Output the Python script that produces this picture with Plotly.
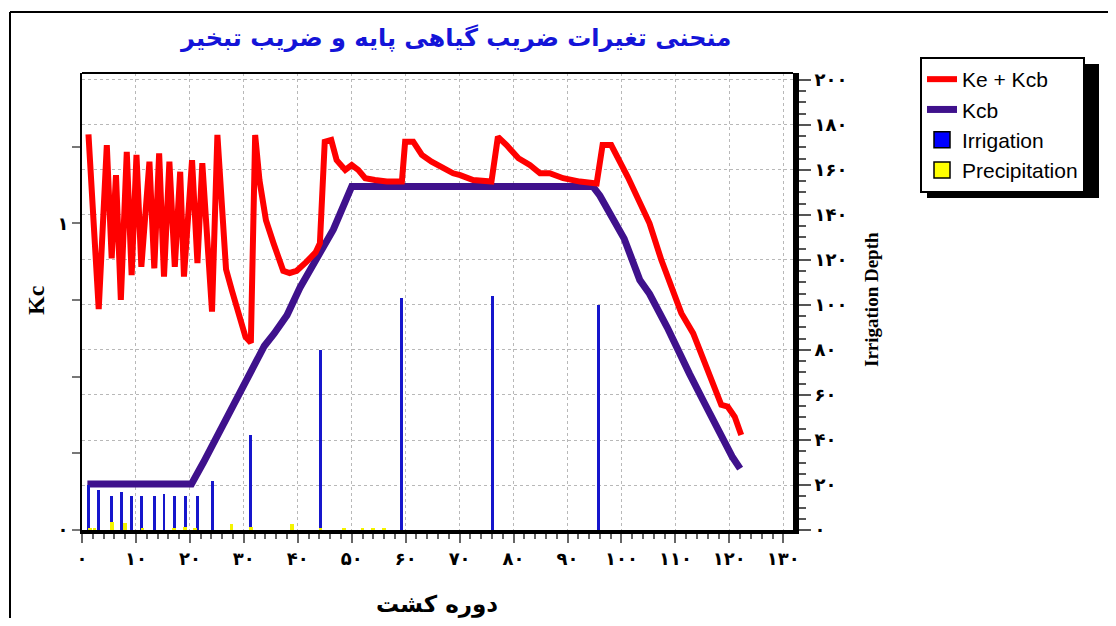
import plotly.graph_objects as go

# Ke + Kcb curve (day, Kc)
kekcb_day = [1.2, 3.1, 4.6, 5.5, 6.3, 7.2, 8.3, 9.2, 10.1, 11.0, 12.5, 13.4, 14.3, 15.2, 16.2,
             17.2, 18.2, 18.9, 20.4, 21.4, 22.3, 24.1, 25.1, 26.7, 27.8, 29.3, 30.3, 31.3,
             32.1, 32.9, 34.1, 35.5, 37.3, 38.5, 39.8, 41.6, 43.3, 44.1, 45.0, 46.2, 47.2,
             48.8, 50.0, 51.2, 52.5, 54.3, 56.5, 59.3, 59.9, 61.4, 63.0, 64.8, 66.4, 68.8,
             70.1, 72.5, 75.9, 77.1, 78.7, 80.9, 83.0, 84.9, 86.7, 89.2, 92.3, 95.4, 96.5,
             98.1, 101.2, 103.4, 104.2, 105.2, 107.4, 111.1, 113.3, 118.5, 119.7, 121.0, 122.2]
kekcb_val = [1.29, 0.72, 1.255, 0.886, 1.157, 0.75, 1.233, 0.831, 1.223, 0.858, 1.201, 0.853,
             1.228, 0.826, 1.201, 0.858, 1.168, 0.826, 1.206, 0.87, 1.196, 0.712, 1.288, 0.85,
             0.78, 0.69, 0.63, 0.611, 1.288, 1.14, 1.01, 0.935, 0.845, 0.838, 0.845, 0.874,
             0.905, 0.935, 1.266, 1.272, 1.206, 1.174, 1.19, 1.174, 1.147, 1.141, 1.136, 1.136,
             1.266, 1.266, 1.223, 1.201, 1.185, 1.163, 1.157, 1.141, 1.136, 1.282, 1.255, 1.212,
             1.19, 1.163, 1.163, 1.147, 1.136, 1.13, 1.255, 1.255, 1.15, 1.065, 1.033, 1.0,
             0.88, 0.707, 0.641, 0.408, 0.402, 0.369, 0.31]

# Kcb curve (day, Kc)
kcb_day = [1, 20.3, 22.5, 24.6, 26.5, 28.5, 30.5, 32.5, 33.8, 35.6, 38, 40.4, 42, 43.5, 46.6,
           50, 94.7, 96, 98.4, 100.5, 103.4, 105.2, 108.5, 111.4, 112.6, 115.5, 118.8, 120.5, 122]
kcb_val = [0.15, 0.15, 0.22, 0.29, 0.36, 0.42, 0.49, 0.56, 0.60, 0.64, 0.70, 0.79, 0.84, 0.88,
           0.98, 1.12, 1.12, 1.09, 1.02, 0.95, 0.815, 0.77, 0.66, 0.545, 0.51, 0.41, 0.29,
           0.24, 0.20]

# irrigation depth events
irr_day = [1.2, 3.1, 5.5, 7.3, 9.2, 11.0, 13.4, 15.2, 17.2, 19.1, 21.4, 24.2, 31.3, 44.3,
           59.3, 76.1, 95.7]
irr_depth = [20, 18, 15, 17, 15, 15, 15, 16, 15, 15, 15, 22, 42, 80, 103, 104, 100]

# precipitation events
rain_day = [1.5, 2.3, 5.5, 8.0, 11.2, 17.1, 19.1, 21.0, 27.7, 31.3, 38.9, 44.2, 48.6, 52, 54, 56]
rain_depth = [1, 1, 3.5, 3, 1, 1, 1.5, 1, 2.5, 1.5, 2.5, 1, 1, 0.8, 0.8, 0.8]

x_ticks = [0, 10, 20, 30, 40, 50, 60, 70, 80, 90, 100, 110, 120, 130]
x_tick_labels = ['۰', '۱۰', '۲۰', '۳۰', '۴۰', '۵۰', '۶۰', '۷۰', '۸۰', '۹۰', '۱۰۰', '۱۱۰',
                 '۱۲۰', '۱۳۰']
kc_ticks = [0, 0.25, 0.5, 0.75, 1, 1.25]
kc_tick_labels = ['۰', '', '', '', '۱', '']
depth_ticks = [0, 20, 40, 60, 80, 100, 120, 140, 160, 180, 200]
depth_tick_labels = ['۰', '۲۰', '۴۰', '۶۰', '۸۰', '۱۰۰', '۱۲۰', '۱۴۰', '۱۶۰', '۱۸۰', '۲۰۰']

# page has an 8px body margin; work in page pixels and convert
OFF = 8
W, H = 1100, 610
L, R, T, B = 82, 793, 73, 530
pw, ph = R - L, B - T


def px(x):
    return (x - L) / pw


def py(y):
    return (B - y) / ph


fa = 'DejaVu Sans'
fig = go.Figure()

fig.add_trace(go.Bar(x=irr_day, y=irr_depth, yaxis='y2', width=0.55,
                     marker=dict(color='#1616cc', line=dict(width=0)), showlegend=False))
fig.add_trace(go.Bar(x=rain_day, y=rain_depth, yaxis='y2', width=0.7,
                     marker=dict(color='#f4f400', line=dict(width=0)), showlegend=False))
fig.add_trace(go.Scatter(x=kcb_day, y=kcb_val, mode='lines', name='Kcb', legendrank=2,
                         line=dict(color='#3f118c', width=7)))
fig.add_trace(go.Scatter(x=kekcb_day, y=kekcb_val, mode='lines', name='Ke + Kcb', legendrank=1,
                         line=dict(color='#ff0000', width=6)))
# legend-only entries for the bar series
fig.add_trace(go.Scatter(x=[None], y=[None], mode='markers', name='Irrigation', legendrank=3,
                         marker=dict(symbol='square', size=16, color='#0000ff',
                                     line=dict(color='black', width=1.5))))
fig.add_trace(go.Scatter(x=[None], y=[None], mode='markers', name='Precipitation', legendrank=4,
                         marker=dict(symbol='square', size=16, color='#ffff00',
                                     line=dict(color='black', width=1.5))))

shapes = [
    # outer frame (top and left)
    dict(type='line', xref='paper', yref='paper', x0=px(10), x1=px(1130), y0=py(12), y1=py(12),
         line=dict(color='black', width=2)),
    dict(type='line', xref='paper', yref='paper', x0=px(10), x1=px(10), y0=py(12), y1=py(640),
         line=dict(color='black', width=2)),
    # plot top border
    dict(type='line', xref='paper', yref='paper', x0=0, x1=1, y0=1, y1=1,
         line=dict(color='black', width=2)),
    # legend shadow
    dict(type='rect', xref='paper', yref='paper', x0=px(927), x1=px(1099), y0=py(198), y1=py(64),
         fillcolor='black', line=dict(width=0)),
]

annotations = [
    dict(text='<b>منحنی تغیرات ضریب گیاهی پایه و ضریب تبخیر</b>', xref='paper', yref='paper',
         x=px(455), y=py(38), xanchor='center', yanchor='middle', showarrow=False,
         font=dict(family=fa, size=24, color='#1414d8')),
    dict(text='<b>دوره کشت</b>', xref='paper', yref='paper', x=px(437), y=py(604),
         xanchor='center', yanchor='middle', showarrow=False,
         font=dict(family=fa, size=23, color='black')),
    dict(text='<b>Kc</b>', xref='paper', yref='paper', x=px(36), y=py(300), textangle=-90,
         xanchor='center', yanchor='middle', showarrow=False,
         font=dict(family='Liberation Serif', size=24, color='black')),
    dict(text='<b>Irrigation Depth</b>', xref='paper', yref='paper', x=px(871), y=py(300),
         textangle=-90, xanchor='center', yanchor='middle', showarrow=False,
         font=dict(family='Liberation Serif', size=19, color='black')),
]

fig.update_layout(
    width=W, height=H,
    margin=dict(l=L - OFF, r=W - (R - OFF), t=T - OFF, b=H - (B - OFF), pad=0),
    paper_bgcolor='white', plot_bgcolor='white',
    barmode='overlay', bargap=0,
    showlegend=True,
    legend=dict(x=px(920), y=py(57), xanchor='left', yanchor='top',
                bgcolor='white', bordercolor='black', borderwidth=2,
                font=dict(family='Liberation Sans', size=21, color='black'),
                traceorder='normal', itemwidth=30, tracegroupgap=0),
    xaxis=dict(range=[0, 131.8], tickmode='array', tickvals=x_ticks, ticktext=x_tick_labels,
               ticks='outside', ticklen=9, tickwidth=2, tickcolor='#666',
               tickfont=dict(family=fa, size=18, color='black', weight='bold'),
               showline=True, linecolor='black', linewidth=4,
               showgrid=True, gridcolor='#b8b8b8', griddash='3px,3px', gridwidth=1,
               zeroline=False,
               minor=dict(tickmode='linear', tick0=0, dtick=2, ticks='outside', ticklen=5,
                          tickwidth=1.5, tickcolor='#666', showgrid=False)),
    yaxis=dict(range=[0, 1.49], tickmode='array', tickvals=kc_ticks, ticktext=kc_tick_labels,
               ticks='outside', ticklen=8, tickwidth=1.5, tickcolor='#777',
               tickfont=dict(family=fa, size=18, color='black', weight='bold'),
               showline=True, linecolor='black', linewidth=2,
               showgrid=False, zeroline=False),
    yaxis2=dict(range=[0, 203.1], overlaying='y', side='right', anchor='x',
                tickmode='array', tickvals=depth_ticks, ticktext=depth_tick_labels,
                ticks='outside', ticklen=12, tickwidth=2, tickcolor='#555',
                tickfont=dict(family=fa, size=18, color='black', weight='bold'),
                showline=True, linecolor='black', linewidth=6,
                showgrid=True, gridcolor='#b8b8b8', griddash='3px,3px', gridwidth=1,
                zeroline=False,
                minor=dict(tickmode='linear', tick0=0, dtick=5, ticks='outside', ticklen=7,
                           tickwidth=1.5, tickcolor='#555', showgrid=False)),
    shapes=shapes,
    annotations=annotations,
)

fig.write_html("out.html")
